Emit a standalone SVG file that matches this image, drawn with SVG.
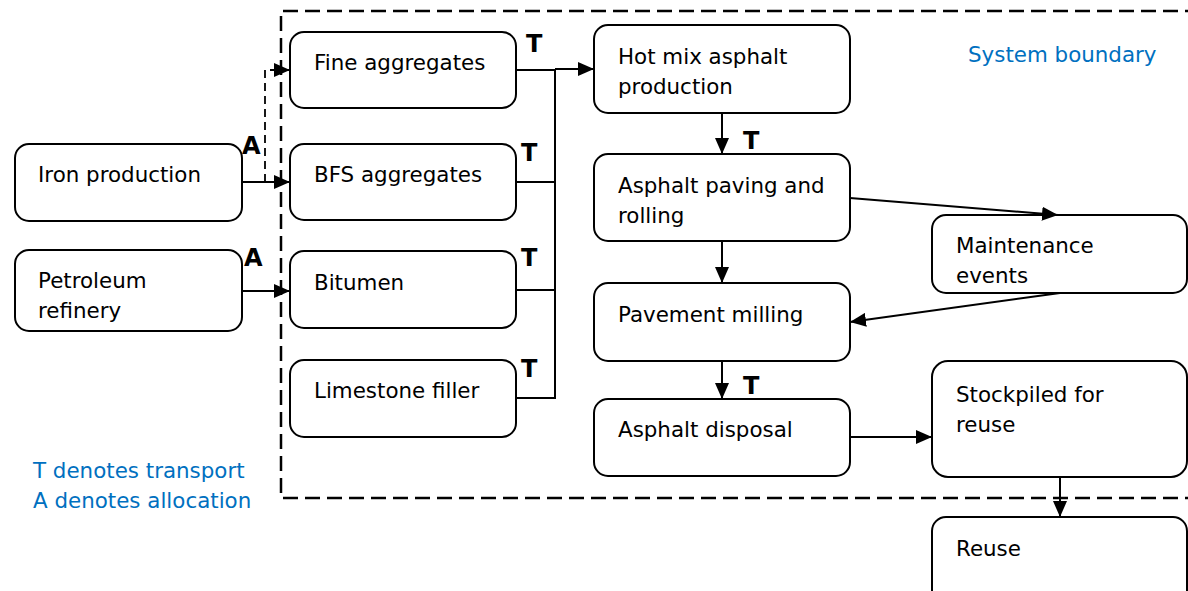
<svg xmlns="http://www.w3.org/2000/svg" width="1188" height="591" viewBox="0 0 1188 591">
<defs>
<marker id="arrow" viewBox="0 0 16 14" refX="16" refY="7" markerWidth="16" markerHeight="14" markerUnits="userSpaceOnUse" orient="auto">
<path d="M0,0 L16,7 L0,14 Z" fill="#000"/>
</marker>
</defs>
<style>
.box{fill:#fff;stroke:#000;stroke-width:2}
.t{font-family:"DejaVu Sans",Verdana,sans-serif;font-size:21.4px;fill:#000}
.b{font-family:"DejaVu Sans",Verdana,sans-serif;font-size:24px;font-weight:bold;fill:#000}
.blue{font-family:"DejaVu Sans",Verdana,sans-serif;font-size:21.4px;fill:#0070C0}
.ln{fill:none;stroke:#000;stroke-width:2}
.dash{fill:none;stroke:#000;stroke-width:1.8;stroke-dasharray:8,5}
.bound{fill:none;stroke:#000;stroke-width:2.5;stroke-dasharray:15,7}
</style>
<rect width="1188" height="591" fill="#fff"/>
<path class="bound" d="M1200,11 H281 V498 H1200"/>
<text class="blue" x="968" y="62">System boundary</text>
<text class="blue" x="33" y="478">T denotes transport</text>
<text class="blue" x="33" y="508">A denotes allocation</text>
<g id="n-iron"><rect class="box" x="15" y="144" width="227" height="77" rx="14"/><text class="t" x="38" y="182">Iron production</text></g>
<g id="n-petroleum"><rect class="box" x="15" y="250" width="227" height="81" rx="14"/><text class="t" x="38" y="288">Petroleum</text><text class="t" x="38" y="318">refinery</text></g>
<g id="n-fine"><rect class="box" x="290" y="32" width="226" height="76" rx="14"/><text class="t" x="314" y="70">Fine aggregates</text></g>
<g id="n-bfs"><rect class="box" x="290" y="144" width="226" height="76" rx="14"/><text class="t" x="314" y="182">BFS aggregates</text></g>
<g id="n-bitumen"><rect class="box" x="290" y="251" width="226" height="77" rx="14"/><text class="t" x="314" y="290">Bitumen</text></g>
<g id="n-limestone"><rect class="box" x="290" y="360" width="226" height="77" rx="14"/><text class="t" x="314" y="398">Limestone filler</text></g>
<g id="n-hma"><rect class="box" x="594" y="25" width="256" height="88" rx="14"/><text class="t" x="618" y="64">Hot mix asphalt</text><text class="t" x="618" y="94">production</text></g>
<g id="n-paving"><rect class="box" x="594" y="154" width="256" height="87" rx="14"/><text class="t" x="618" y="193">Asphalt paving and</text><text class="t" x="618" y="223">rolling</text></g>
<g id="n-milling"><rect class="box" x="594" y="283" width="256" height="78" rx="14"/><text class="t" x="618" y="322">Pavement milling</text></g>
<g id="n-disposal"><rect class="box" x="594" y="399" width="256" height="77" rx="14"/><text class="t" x="618" y="437">Asphalt disposal</text></g>
<g id="n-maint"><rect class="box" x="932" y="215" width="255" height="78" rx="14"/><text class="t" x="956" y="253">Maintenance</text><text class="t" x="956" y="283">events</text></g>
<g id="n-stock"><rect class="box" x="932" y="361" width="255" height="116" rx="16"/><text class="t" x="956" y="402">Stockpiled for</text><text class="t" x="956" y="432">reuse</text></g>
<g id="n-reuse"><rect class="box" x="932" y="517" width="255" height="90" rx="14"/><text class="t" x="956" y="556">Reuse</text></g>
<g id="connectors">
<path class="ln" d="M516,70 H555"/>
<path class="ln" d="M516,182 H555"/>
<path class="ln" d="M516,290 H555"/>
<path class="ln" d="M516,398 H555 V69"/>
<path class="ln" d="M555,69 H594" stroke-width="2.5" marker-end="url(#arrow)"/>
<path class="ln" d="M242,182 H290" marker-end="url(#arrow)"/>
<path class="dash" d="M265,182 V70 H280"/>
<path class="ln" d="M276,70 H290" marker-end="url(#arrow)"/>
<path class="ln" d="M242,291 H290" marker-end="url(#arrow)"/>
<path class="ln" d="M722,113 V154" marker-end="url(#arrow)"/>
<path class="ln" d="M722,241 V283" marker-end="url(#arrow)"/>
<path class="ln" d="M722,361 V399" marker-end="url(#arrow)"/>
<path class="ln" d="M850,198 L1058,215" marker-end="url(#arrow)"/>
<path class="ln" d="M1060,293 L850,322" marker-end="url(#arrow)"/>
<path class="ln" d="M850,437 H932" marker-end="url(#arrow)"/>
<path class="ln" d="M1060,477 V517" marker-end="url(#arrow)"/>
<text class="b" x="526" y="52">T</text>
<text class="b" x="521" y="161">T</text>
<text class="b" x="521" y="266">T</text>
<text class="b" x="521" y="377">T</text>
<text class="b" x="743" y="149">T</text>
<text class="b" x="743" y="394">T</text>
<text class="b" x="242" y="154">A</text>
<text class="b" x="244" y="266">A</text>
</g>
</svg>
